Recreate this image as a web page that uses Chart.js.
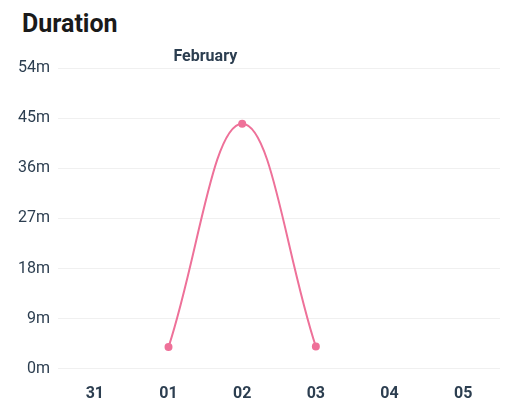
<!DOCTYPE html>
<html>
<head>
<meta charset="utf-8">
<script src="https://cdn.jsdelivr.net/npm/chart.js@4"></script>
<style>
  body { margin:0; background:#fff; font-family:Roboto, sans-serif; }
  h1 { position:absolute; left:22px; top:9px; margin:0; font-size:25px; font-weight:700; color:#1a1a1a; }
  .wrap { position:absolute; left:0; top:40px; width:506px; height:372px; }
</style>
</head>
<body>
<h1>Duration</h1>
<div class="wrap"><canvas id="c"></canvas></div>
<script>
const days = ["31", "01", "02", "03", "04", "05"];
const minutes = [null, 3.9, 44, 4, null, null];
const yTicks = [0, 9, 18, 27, 36, 45, 54];
const monthLabel = "February";

/* month label above the first day of the month */
const monthPlugin = {
  id: "month",
  afterDraw(chart){
    const x = chart.scales.x;
    const px = (x.getPixelForValue(1) + x.getPixelForValue(2)) / 2;
    const ctx = chart.ctx;
    ctx.save();
    ctx.font = "bold 16px Roboto";
    ctx.fillStyle = "#2c3e50";
    ctx.textAlign = "center";
    ctx.textBaseline = "middle";
    ctx.fillText(monthLabel, px, 17);
    ctx.restore();
  }
};

new Chart(document.getElementById("c"), {
  type: "line",
  data: {
    labels: days,
    datasets: [{
      data: minutes,
      borderColor: "#ee7199",
      backgroundColor: "#ee7199",
      borderWidth: 2,
      tension: 0.4,
      pointRadius: 3,
      spanGaps: false
    }]
  },
  options: {
    responsive: true,
    maintainAspectRatio: false,
    animation: false,
    layout: { padding: { top: 28, right: 2, left: 10 } },
    plugins: { legend: { display: false }, tooltip: { enabled: false } },
    scales: {
      x: {
        offset: true,
        grid: { display: false },
        border: { display: false },
        ticks: { color: "#2c3e50", font: { family: "Roboto", size: 16, weight: "bold" }, padding: 8 }
      },
      y: {
        min: 0, max: 54,
        afterBuildTicks: s => { s.ticks = yTicks.map(v => ({ value: v })); },
        grid: { color: "#f0f0f0", drawTicks: false },
        border: { display: false },
        ticks: { color: "#2c3e50", font: { family: "Roboto", size: 16 }, padding: 8, callback: v => v + "m" }
      }
    }
  },
  plugins: [monthPlugin]
});
</script>
</body>
</html>
